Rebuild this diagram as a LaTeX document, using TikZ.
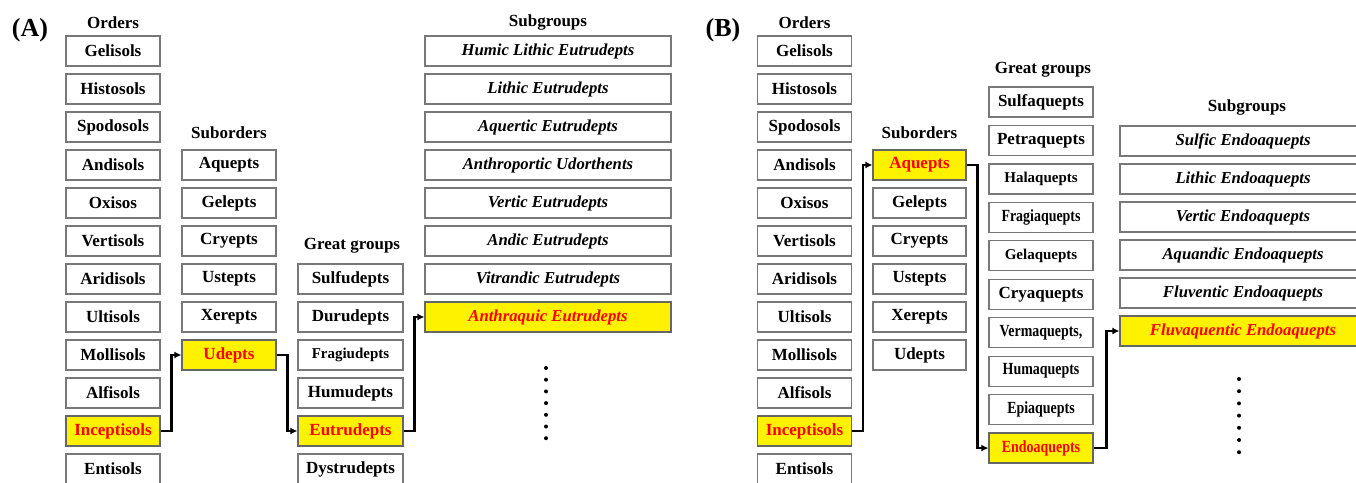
\documentclass[tikz,border=0pt]{standalone}
\usepackage{fontspec}
\usepackage{graphicx}
\setmainfont{Liberation Serif}
\usetikzlibrary{arrows.meta}
\newcommand\squeeze[1]{\scalebox{0.82}[1]{#1}}
\definecolor{boxgray}{RGB}{120,120,120}
\tikzset{
  box/.style={draw=boxgray, line width=1.2pt, minimum width=#1, minimum height=30pt, inner sep=0pt,
    font=\bfseries\fontsize{17}{17}\selectfont},
  box/.default=94pt,
  small/.style={font=\bfseries\fontsize{15}{15}\selectfont},
  subbox/.style={box=246pt, font=\bfseries\itshape\fontsize{16.7}{16.7}\selectfont},
  pick/.style={fill=yellow, text=red, draw=black!60},
  head/.style={font=\bfseries\fontsize{17}{17}\selectfont},
  panel/.style={font=\bfseries\fontsize{26}{26}\selectfont},
  link/.style={line width=2.4pt, -{Latex[length=7pt,width=7pt]}},
}
\begin{document}
\begin{tikzpicture}[x=1pt, y=-1pt]
\useasboundingbox (0,0) rectangle (1356,482);
% panel labels
\node[panel] (pa) at (30,30) {(A)};
\node[panel] (pb) at (723,30) {(B)};
% orders, same in both panels
\foreach \p/\dx in {a/0,b/691.5}{
  \node[head] (ho\p) at (113+\dx,23) {Orders};
  \foreach \name/\sty [count=\i from 0] in {Gelisols/,Histosols/,Spodosols/,Andisols/,Oxisos/,Vertisols/,
      Aridisols/,Ultisols/,Mollisols/,Alfisols/,Inceptisols/pick,Entisols/}
    \node[box,\sty] (o\p\i) at (113+\dx,51+38*\i) {\name};
}
% (A) suborders, great groups, subgroups
\node[head] (hsa) at (229,133) {Suborders};
\foreach \name/\sty [count=\i from 0] in {Aquepts/,Gelepts/,Cryepts/,Ustepts/,Xerepts/,Udepts/pick}
  \node[box,\sty] (sa\i) at (229,165+38*\i) {\name};
\node[head] (hga) at (352,246) {Great groups};
\foreach \name/\sty [count=\i from 0] in {Sulfudepts/,Durudepts/,Fragiudepts/small,Humudepts/,Eutrudepts/pick,Dystrudepts/}
  \node[box=105pt,\sty] (ga\i) at (350.5,279+38*\i) {\name};
\node[head] (hua) at (548,22) {Subgroups};
\foreach \name/\sty [count=\i from 0] in {Humic Lithic Eutrudepts/,Lithic Eutrudepts/,Aquertic Eutrudepts/,
    Anthroportic Udorthents/,Vertic Eutrudepts/,Andic Eutrudepts/,Vitrandic Eutrudepts/,Anthraquic Eutrudepts/pick}
  \node[subbox,\sty] (ua\i) at (548,51+38*\i) {\name};
\foreach \k in {0,...,6} \fill (546,368+11.7*\k) circle (2pt);
\draw[link] (oa10.east) -- ++(11,0) |- (sa5.west);
\draw[link] (sa5.east) -- ++(11,0) |- (ga4.west);
\draw[link] (ga4.east) -- ++(11,0) |- (ua7.west);
% (B) suborders, great groups, subgroups
\node[head] (hsb) at (919.5,133) {Suborders};
\foreach \name/\sty [count=\i from 0] in {Aquepts/pick,Gelepts/,Cryepts/,Ustepts/,Xerepts/,Udepts/}
  \node[box=93pt,\sty] (sb\i) at (919.5,165+38*\i) {\name};
\node[head] (hgb) at (1043,70) {Great groups};
\foreach \name/\sty [count=\i from 0] in {Sulfaquepts/,Petraquepts/,Halaquepts/small,\squeeze{Fragiaquepts}/,Gelaquepts/small,
    Cryaquepts/,\squeeze{Vermaquepts,}/,\squeeze{Humaquepts}/,\squeeze{Epiaquepts}/,\squeeze{Endoaquepts}/pick}
  \node[box=104pt,\sty] (gb\i) at (1041,102+38.45*\i) {\name};
\node[head] (hub) at (1247,107) {Subgroups};
\foreach \name/\sty [count=\i from 0] in {Sulfic Endoaquepts/,Lithic Endoaquepts/,Vertic Endoaquepts/,
    Aquandic Endoaquepts/,Fluventic Endoaquepts/,Fluvaquentic Endoaquepts/pick}
  \node[subbox,\sty] (ub\i) at (1243,141+38*\i) {\name};
\foreach \k in {0,...,6} \fill (1239,379+12.2*\k) circle (2pt);
\draw[link] (ob10.east) -- ++(11,0) |- (sb0.west);
\draw[link] (sb0.east) -- ++(11,0) |- (gb9.west);
\draw[link] (gb9.east) -- ++(13,0) |- (ub5.west);
\end{tikzpicture}
\end{document}
